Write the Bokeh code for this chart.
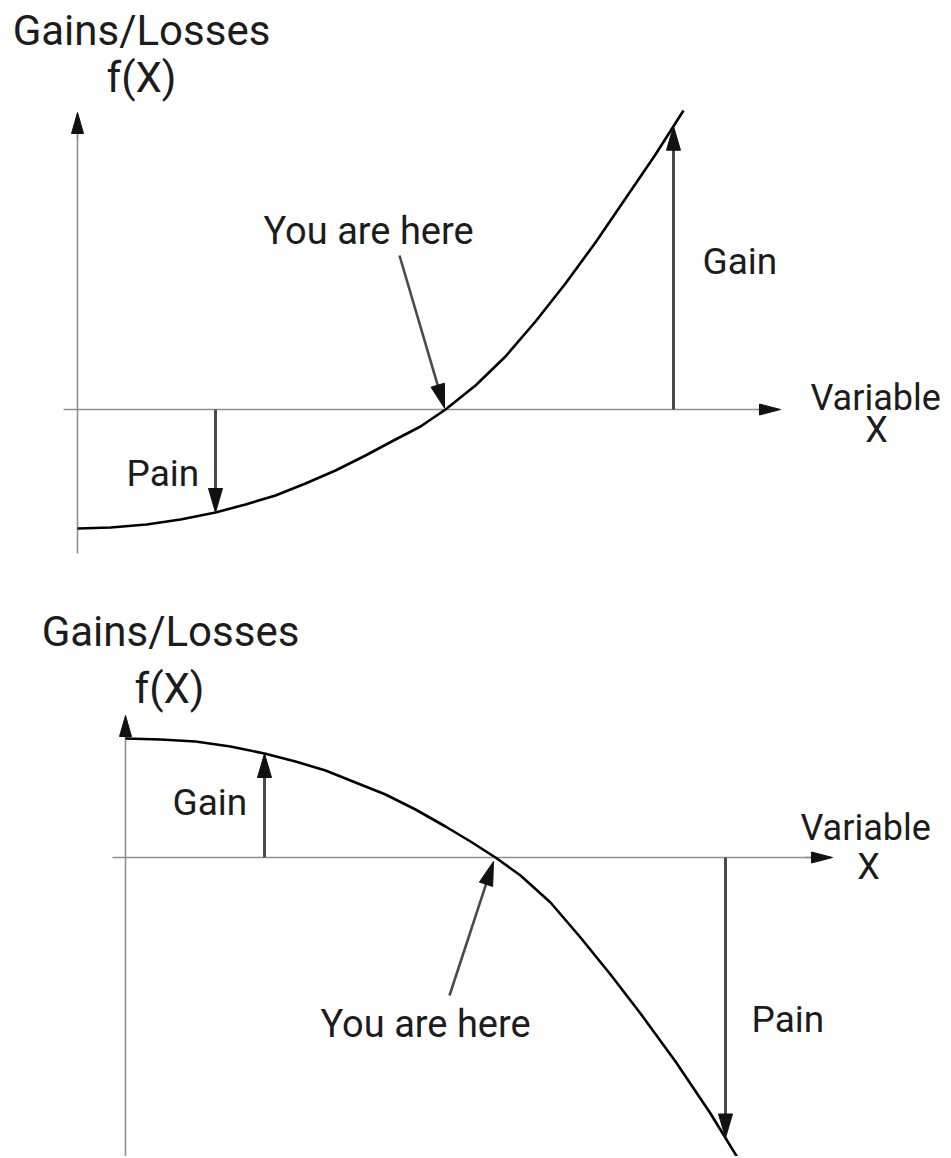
import numpy as np
from bokeh.plotting import figure
from bokeh.layouts import column
from bokeh.models import Range1d
from bokeh.core.properties import value
from bokeh.embed import file_html
from bokeh.resources import INLINE

# ---------------- data ----------------
# Panel 1: convex pay-off, f(X) against X
top_x = [0.00, 0.33, 0.69, 1.03, 1.38, 1.68, 1.98, 2.28, 2.58, 2.88, 3.18,
         3.43, 3.68, 3.98, 4.28, 4.58, 4.88, 5.18, 5.48, 5.78, 6.06]
top_fx = [-1.19, -1.18, -1.15, -1.10, -1.03, -0.95, -0.86, -0.74, -0.61, -0.46, -0.30,
          -0.17, 0.00, 0.24, 0.53, 0.88, 1.26, 1.67, 2.11, 2.55, 2.99]
# Panel 2: concave pay-off
bot_x = [0.00, 0.35, 0.70, 1.05, 1.39, 1.70, 2.00, 2.30, 2.60, 2.90, 3.20,
         3.45, 3.70, 3.95, 4.25, 4.55, 4.85, 5.15, 5.50, 5.85, 6.15]
bot_fx = [1.19, 1.18, 1.16, 1.11, 1.04, 0.96, 0.87, 0.75, 0.63, 0.48, 0.31,
          0.16, 0.00, -0.18, -0.45, -0.80, -1.17, -1.56, -2.04, -2.56, -3.05]

# marked positions on X
top_marks = {"pain": 1.38, "here": 3.67, "gain": 5.96}
bot_marks = {"gain": 1.39, "here": 3.69, "pain": 6.00}

axis_title = "Gains/Losses"
axis_sub = "f(X)"
x_title = "Variable"
x_sub = "X"

FONT = "Roboto"
TXT = "#1c1c1c"


def make_fig(h, xr, yr):
    p = figure(width=950, height=h, x_range=Range1d(*xr), y_range=Range1d(*yr),
               output_backend="svg", toolbar_location=None,
               x_axis_location=None, y_axis_location=None,
               min_border=0, outline_line_color=None)
    p.xgrid.visible = False
    p.ygrid.visible = False
    p.background_fill_color = "white"
    p.border_fill_color = "white"
    return p


def arrow(p, x0, y0, x1, y1, color="#4a4a4a", width=3.0, L=0.24, W=0.07, head="#111111"):
    d = np.array([x1 - x0, y1 - y0], dtype=float)
    n = np.hypot(*d)
    d /= n
    perp = np.array([-d[1], d[0]])
    tip = np.array([x1, y1])
    base = tip - L * d
    p.line([x0, base[0] + 0.02 * d[0]], [y0, base[1] + 0.02 * d[1]],
           line_color=color, line_width=width)
    a = base + W * perp
    b = base - W * perp
    p.patch([tip[0], a[0], b[0]], [tip[1], a[1], b[1]],
            fill_color=head, line_color=head, line_width=1)


def label(p, x, y, t, size, align="left"):
    p.text([x], [y], text=[t], text_font=value(FONT), text_font_size=f"{size}px",
           text_color=TXT, text_align=align, text_baseline="middle")


AX = "#8f8f8f"

# ---------------- panel 1 ----------------
p1 = make_fig(578, (-0.77, 8.73), (-1.69, 4.09))
p1.line([-0.14, 6.90], [0, 0], line_color=AX, line_width=1.6)
arrow(p1, 6.8, 0, 7.03, 0, color=AX, width=1.6, L=0.21, W=0.055)
p1.line([0, 0], [-1.44, 2.8], line_color=AX, line_width=1.6)
arrow(p1, 0, 2.7, 0, 2.97, color=AX, width=1.6, L=0.21, W=0.06)
p1.line(top_x, top_fx, line_color="black", line_width=2.6)
gx = top_marks["gain"]
arrow(p1, gx, 0, gx, float(np.interp(gx, top_x, top_fx)))
px_ = top_marks["pain"]
arrow(p1, px_, 0, px_, float(np.interp(px_, top_x, top_fx)))
hx = top_marks["here"]
arrow(p1, hx - 0.45, 1.54, hx, float(np.interp(hx, top_x, top_fx)) + 0.02, width=2.6)
label(p1, 0.64, 3.79, axis_title, 42, "center")
label(p1, 0.64, 3.32, axis_sub, 42, "center")
label(p1, 1.86, 1.79, "You are here", 38)
label(p1, 6.25, 1.48, "Gain", 37)
label(p1, 7.33, 0.12, x_title, 36)
label(p1, 7.99, -0.20, x_sub, 36, "center")
label(p1, 0.49, -0.64, "Pain", 37)

# ---------------- panel 2 ----------------
p2 = make_fig(578, (-1.25, 8.25), (-2.99, 2.79))
p2.line([-0.13, 6.9], [0, 0], line_color=AX, line_width=1.6)
arrow(p2, 6.8, 0, 7.07, 0, color=AX, width=1.6, L=0.21, W=0.055)
p2.line([0, 0], [-3.1, 1.3], line_color=AX, line_width=1.6)
arrow(p2, 0, 1.2, 0, 1.42, color=AX, width=1.6, L=0.21, W=0.06)
p2.line(bot_x, bot_fx, line_color="black", line_width=2.6)
gx = bot_marks["gain"]
arrow(p2, gx, 0, gx, float(np.interp(gx, bot_x, bot_fx)))
px_ = bot_marks["pain"]
arrow(p2, px_, 0, px_, float(np.interp(px_, bot_x, bot_fx)))
hx = bot_marks["here"]
arrow(p2, hx - 0.45, -1.38, hx - 0.01, -0.04, width=2.6)
label(p2, 0.45, 2.26, axis_title, 42, "center")
label(p2, 0.44, 1.69, axis_sub, 42, "center")
label(p2, 0.47, 0.55, "Gain", 37)
label(p2, 6.75, 0.30, x_title, 36)
label(p2, 7.43, -0.09, x_sub, 36, "center")
label(p2, 6.26, -1.62, "Pain", 37)
label(p2, 1.95, -1.66, "You are here", 38)

layout = column(p1, p2, spacing=0)
open("out.html", "w").write(file_html(layout, INLINE))
